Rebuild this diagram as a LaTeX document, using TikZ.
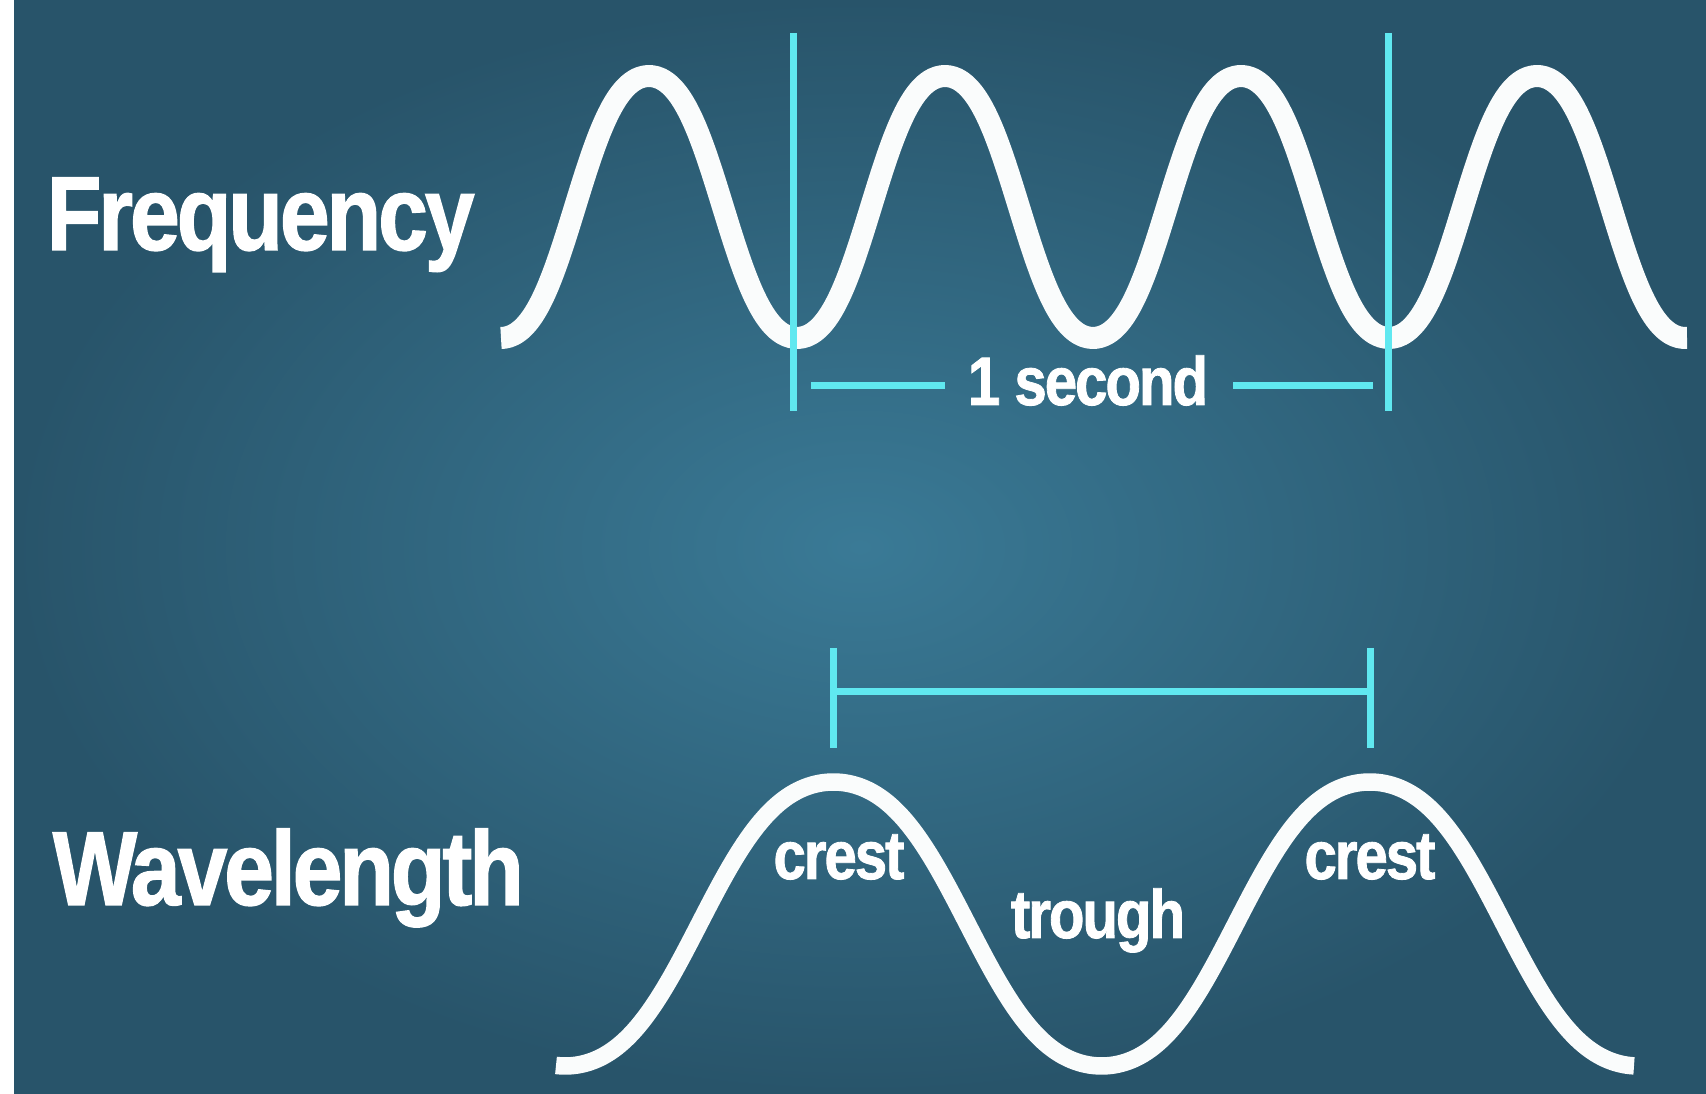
\documentclass[tikz,border=0pt]{standalone}
\usepackage{fontspec}
\setmainfont{Liberation Sans}
\newfontfamily\narrowfont[FakeStretch=0.85, LetterSpace=-3, FakeBold=1.2]{Liberation Sans}
\usetikzlibrary{positioning, calc}
\definecolor{BgInner}{RGB}{58,122,150}
\definecolor{BgOuter}{RGB}{40,84,106}
\definecolor{MarkCyan}{RGB}{96,232,240}
\definecolor{WaveWhite}{RGB}{250,252,252}

\begin{document}
\begin{tikzpicture}[
    x=0.1mm, y=-0.1mm,
    title/.style={text=white, font=\narrowfont\fontsize{30}{36}\selectfont\bfseries, inner sep=0pt},
    tag/.style={text=white, font=\narrowfont\fontsize{19.5}{23}\selectfont\bfseries, inner sep=0pt},
    cyanline/.style={draw=MarkCyan, line width=0.7mm},
    wavefat/.style={draw=WaveWhite, line width=2.2mm, line join=round},
    wavethin/.style={draw=WaveWhite, line width=1.75mm, line join=round}
]
    \useasboundingbox (0,0) rectangle (1706,1094);

    % Hintergrund
    \fill[white] (0,0) rectangle (14,1094);
    \shade[inner color=BgInner, outer color=BgOuter] (14,0) rectangle (1706,1094);

    % Frequenz
    \node[title, anchor=base west] (freq) at (46,250) {Frequency};
    \draw[wavefat] plot[domain=501:1687, samples=300, smooth]
        (\x,{207+131*(cos((\x-797)/296*360)-0.04*cos((\x-797)/296*1080))/0.96});

    \coordinate (secLtop) at (793,33);
    \coordinate (secLbot) at (793,411);
    \coordinate (secRtop) at (1388,33);
    \coordinate (secRbot) at (1388,411);
    \coordinate (secbarL) at (811,386);
    \coordinate (secbarR) at (1373,386);
    \draw[cyanline] (secLtop) -- (secLbot);
    \draw[cyanline] (secRtop) -- (secRbot);

    \node[tag, anchor=base] (onesec) at (1088,405) {1 second};
    \draw[cyanline] (secbarL) -- ([xshift=-2.2mm]onesec.west |- secbarL);
    \draw[cyanline] (secbarR) -- ([xshift=2.4mm]onesec.east |- secbarR);

    % Wellenlaenge
    \node[title, anchor=base west] (wavel) at (52,905) {Wavelength};
    \draw[wavethin] plot[domain=556:1634, samples=300, smooth]
        (\x,{924+142*(cos((\x-1101.6)/536.4*360)-0.04*cos((\x-1101.6)/536.4*1080))/0.96});

    \coordinate (lamAtop) at (833,648);
    \coordinate (lamAbot) at (833,748);
    \coordinate (lamBtop) at (1370,648);
    \coordinate (lamBbot) at (1370,748);
    \draw[cyanline] (lamAtop) -- (lamAbot);
    \draw[cyanline] (lamBtop) -- (lamBbot);
    \draw[cyanline] ($(lamAtop)!0.44!(lamAbot)$) -- ($(lamBtop)!0.44!(lamBbot)$);

    \node[tag, anchor=base] (crestA) at (839,879) {crest};
    \node[tag, anchor=base] (crestB) at (1370,879) {crest};
    \node[tag, anchor=base] (trough) at (1098,938) {trough};
\end{tikzpicture}
\end{document}
